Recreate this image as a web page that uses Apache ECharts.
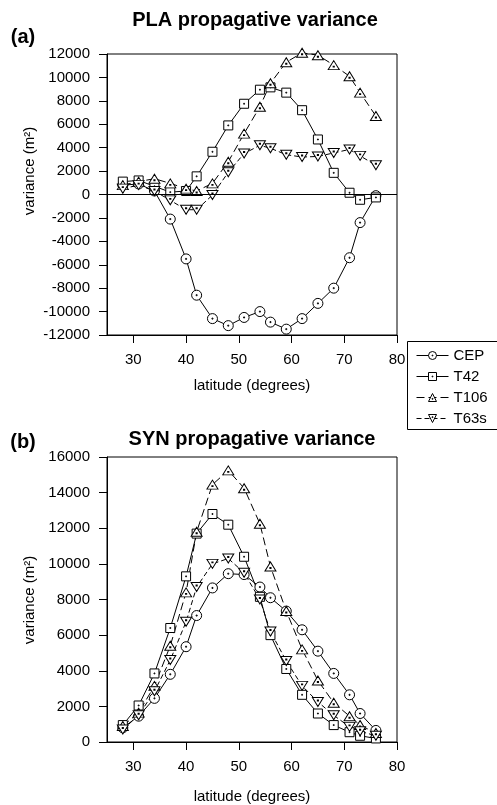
<!DOCTYPE html>
<html>
<head>
<meta charset="utf-8">
<script src="https://cdn.jsdelivr.net/npm/echarts@6/dist/echarts.min.js"></script>
<style>
  html, body { margin: 0; padding: 0; background: #fff; }
  #chart { width: 497px; height: 805px; }
</style>
</head>
<body>
<div id="chart"></div>
<script>
// Latitudes (degrees) of the sampled grid rows
const latitudes = [28, 31, 34, 37, 40, 42, 45, 48, 51, 54, 56, 59, 62, 65, 68, 71, 73, 76];

// (a) PLA propagative variance (m^2)
const plaCEP  = [800, 900, 300, -2100, -5500, -8600, -10600, -11200, -10500, -10000, -10900, -11500, -10600, -9300, -8000, -5400, -2400, -100];
const plaT42  = [1100, 1200, 700, 200, 300, 1550, 3650, 5900, 7750, 8950, 9150, 8700, 7200, 4700, 1850, 150, -450, -250];
const plaT106 = [800, 1100, 1350, 950, 500, 300, 950, 2800, 5200, 7500, 9500, 11300, 12100, 11900, 11050, 10100, 8700, 6700];
const plaT63s = [500, 800, 300, -500, -1300, -1300, -50, 1900, 3500, 4200, 3950, 3400, 3200, 3250, 3550, 3850, 3300, 2500];

// (b) SYN propagative variance (m^2)
const synCEP  = [800, 1450, 2450, 3800, 5350, 7100, 8650, 9450, 9400, 8700, 8100, 7350, 6300, 5100, 3850, 2650, 1600, 650];
const synT42  = [950, 2050, 3850, 6400, 9300, 11700, 12800, 12200, 10400, 8150, 6000, 4100, 2650, 1600, 950, 550, 350, 200];
const synT106 = [900, 1650, 3150, 5400, 8400, 11800, 14450, 15250, 14250, 12250, 9850, 7350, 5200, 3450, 2200, 1450, 950, 500];
const synT63s = [700, 1500, 2850, 4600, 6750, 8700, 10000, 10300, 9500, 8000, 6200, 4550, 3150, 2250, 1500, 850, 600, 350];

// Axis tick labels
const latTicks = [30, 40, 50, 60, 70, 80];
const seriesNames = ['CEP', 'T42', 'T106', 'T63s'];

const FONT = '"Liberation Sans", Arial, Helvetica, sans-serif';

// Open markers with a centre dot
const SYM = {
  CEP:  'path://M20,10 A10,10 0 1,1 0,10 A10,10 0 1,1 20,10 Z M9,9 L11,9 L11,11 L9,11 Z',
  T42:  'path://M0,0 L20,0 L20,20 L0,20 Z M9,9 L11,9 L11,11 L9,11 Z',
  T106: 'path://M10,0 L20,18 L0,18 Z M9,11 L11,11 L11,13 L9,13 Z',
  T63s: 'path://M0,0 L20,0 L10,18 Z M9,5 L11,5 L11,7 L9,7 Z'
};
const SIZE = { CEP: 10, T42: 9, T106: [11, 10], T63s: [11, 10] };
const DASH = { CEP: 'solid', T42: 'solid', T106: [8, 4], T63s: [5, 3] };

function makeSeries(name, values, gridIdx, extra) {
  return Object.assign({
    name: name,
    type: 'line',
    xAxisIndex: gridIdx,
    yAxisIndex: gridIdx,
    data: latitudes.map((lat, i) => [lat, values[i]]),
    symbol: SYM[name],
    symbolSize: SIZE[name],
    symbolKeepAspect: true,
    showAllSymbol: true,
    clip: false,
    lineStyle: { color: '#000', width: 1, type: DASH[name] },
    itemStyle: { color: '#fff', borderColor: '#000', borderWidth: 1 },
    emphasis: { disabled: true },
    animation: false,
    z: 3
  }, extra || {});
}

function xAxisFor(gridIdx) {
  return {
    type: 'value', gridIndex: gridIdx, min: 25, max: 80,
    axisLine: { show: true, onZero: false, lineStyle: { color: '#000', width: 1 } },
    axisTick: { show: true, inside: false, length: 8, customValues: latTicks, lineStyle: { color: '#000' } },
    axisLabel: { customValues: latTicks, margin: 17, color: '#000', fontSize: 15, fontFamily: FONT },
    splitLine: { show: false }
  };
}

function yAxisFor(gridIdx, min, max) {
  return {
    type: 'value', gridIndex: gridIdx, min: min, max: max, interval: 2000,
    axisLine: { show: true, onZero: false, lineStyle: { color: '#000', width: 1 } },
    axisTick: { show: true, inside: false, length: 8, lineStyle: { color: '#000' } },
    axisLabel: { margin: 17, color: '#000', fontSize: 15, fontFamily: FONT, formatter: v => String(v) },
    splitLine: { show: false }
  };
}

function label(text, x, y, size, weight, rotation) {
  const el = {
    type: 'text', x: x, y: y,
    style: {
      text: text, fill: '#000', fontFamily: FONT, fontSize: size, fontWeight: weight,
      align: 'center', verticalAlign: 'middle'
    }
  };
  if (rotation) el.rotation = rotation;
  return el;
}

const chart = echarts.init(document.getElementById('chart'), null, { renderer: 'canvas' });

chart.setOption({
  backgroundColor: '#fff',
  animation: false,
  grid: [
    { left: 107, top: 54, width: 290, height: 281, show: true, borderColor: '#000', borderWidth: 1, backgroundColor: 'transparent' },
    { left: 107, top: 457, width: 290, height: 285, show: true, borderColor: '#000', borderWidth: 1, backgroundColor: 'transparent' }
  ],
  xAxis: [xAxisFor(0), xAxisFor(1)],
  yAxis: [yAxisFor(0, -12000, 12000), yAxisFor(1, 0, 16000)],
  legend: {
    data: seriesNames,
    orient: 'vertical',
    left: 411,
    top: 343,
    itemWidth: 32,
    itemHeight: 10,
    itemGap: 6,
    lineStyle: { width: 1 },
    itemStyle: { borderWidth: 1 },
    textStyle: { color: '#000', fontSize: 15, fontFamily: FONT },
    selectedMode: false
  },
  series: [
    makeSeries('CEP', plaCEP, 0, {
      markLine: {
        silent: true, symbol: 'none', label: { show: false }, animation: false,
        lineStyle: { color: '#000', width: 1, type: 'solid' },
        data: [{ yAxis: 0 }]
      }
    }),
    makeSeries('T42', plaT42, 0),
    makeSeries('T106', plaT106, 0),
    makeSeries('T63s', plaT63s, 0),
    makeSeries('CEP', synCEP, 1),
    makeSeries('T42', synT42, 1),
    makeSeries('T106', synT106, 1),
    makeSeries('T63s', synT63s, 1)
  ],
  graphic: [
    label('PLA propagative variance', 255, 20, 20, 'bold'),
    label('(a)', 23, 37, 20, 'bold'),
    label('latitude (degrees)', 252, 386, 15, 'normal'),
    label('variance (m²)', 30, 171, 15, 'normal', Math.PI / 2),
    label('SYN propagative variance', 252, 439, 20, 'bold'),
    label('(b)', 23, 442, 20, 'bold'),
    label('latitude (degrees)', 252, 797, 15, 'normal'),
    label('variance (m²)', 30, 600, 15, 'normal', Math.PI / 2),
    // legend frame
    { type: 'rect', shape: { x: 407.5, y: 341.5, width: 100, height: 88 }, style: { fill: 'none', stroke: '#000', lineWidth: 1 } }
  ]
});
</script>
</body>
</html>
